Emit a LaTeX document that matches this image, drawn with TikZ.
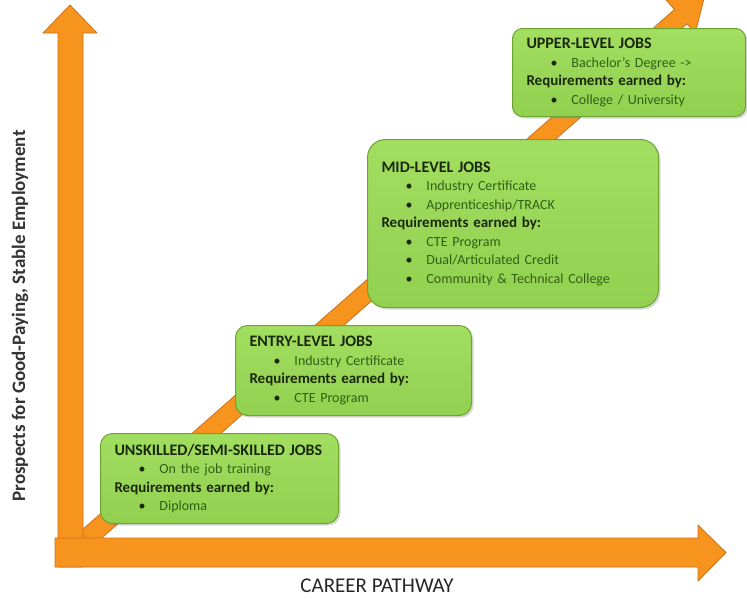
\documentclass[tikz,border=0pt]{standalone}
\usepackage{fontspec}
\setmainfont{Carlito}
\usetikzlibrary{shadows}
\definecolor{arroworange}{RGB}{247,148,30}
\definecolor{arrowedge}{RGB}{205,112,28}
\definecolor{boxgreen}{RGB}{146,208,80}
\definecolor{boxtop}{RGB}{162,222,96}
\definecolor{boxedge}{RGB}{108,164,50}
\definecolor{titlegreen}{RGB}{26,40,12}
\definecolor{itemgreen}{RGB}{48,96,22}
\newcommand{\jobitem}[1]{\hspace*{24pt}\textbullet\hspace{14pt}{\color{itemgreen}#1}}
\newcommand{\jobtitle}[1]{{\fontsize{16}{18.5}\selectfont\bfseries #1}}
\newcommand{\jobreq}{{\fontsize{15}{18.5}\selectfont\bfseries Requirements earned by:}}

\begin{document}
\begin{tikzpicture}[x=1pt, y=-1pt,
    arrowshape/.style={fill=arroworange, draw=arrowedge, line width=0.8pt, line join=round},
    jobbox/.style={draw=boxedge, top color=boxtop, bottom color=boxgreen, line width=1pt, rounded corners=12pt,
        anchor=north west, align=left, inner xsep=14pt, inner ysep=4pt, text=titlegreen,
        font=\fontsize{14}{18.5}\selectfont,
        drop shadow={opacity=0.3, shadow xshift=2pt, shadow yshift=-2pt}}]
    \useasboundingbox (0,0) rectangle (747,598);
    \clip (0,0) rectangle (747,598);

    % Rising path
    \begin{scope}[shift={(85,540)}, rotate=41.3]
        \draw[arrowshape] (-15,-9.5) -- (793,-9.5) -- (793,-22) -- (825,0) -- (793,22) -- (793,9.5) -- (-15,9.5) -- cycle;
    \end{scope}

    % Axes
    \draw[arrowshape] (58,567) -- (58,33) -- (43,33) -- (70,5) -- (97,33) -- (83,33) -- (83,567) -- cycle;
    \draw[arrowshape] (55,538) -- (698,538) -- (698,525) -- (726,552.5) -- (698,581) -- (698,567) -- (55,567) -- cycle;

    \node[rotate=90, text=black!80, font=\fontsize{19}{22}\selectfont\bfseries] (label-y) at (20,316) {Prospects for Good-Paying, Stable Employment};
    \node[text=black!85, inner sep=0pt, font=\fontsize{21}{24}\selectfont] (label-x) at (377,586) {CAREER PATHWAY};

    % Job levels
    \node[jobbox, text width=210pt, minimum height=90pt] (job-1) at (100,433) {%
        \jobtitle{UNSKILLED/SEMI-SKILLED JOBS}\\
        \jobitem{On the job training}\\
        \jobreq\\
        \jobitem{Diploma}};

    \node[jobbox, text width=208pt, minimum height=90pt] (job-2) at (235,325) {%
        \jobtitle{ENTRY-LEVEL JOBS}\\
        \jobitem{Industry Certificate}\\
        \jobreq\\
        \jobitem{CTE Program}};

    \node[jobbox, text width=263pt, minimum height=168pt, rounded corners=18pt] (job-3) at (367,139) {%
        \jobtitle{MID-LEVEL JOBS}\\
        \jobitem{Industry Certificate}\\
        \jobitem{Apprenticeship/TRACK}\\
        \jobreq\\
        \jobitem{CTE Program}\\
        \jobitem{Dual/Articulated Credit}\\
        \jobitem{Community \& Technical College}};

    \node[jobbox, text width=205pt, minimum height=88pt, rounded corners=10pt] (job-4) at (512,28) {%
        \jobtitle{UPPER-LEVEL JOBS}\\
        \jobitem{Bachelor's Degree ->}\\
        \jobreq\\
        \jobitem{College / University}};

\end{tikzpicture}
\end{document}
